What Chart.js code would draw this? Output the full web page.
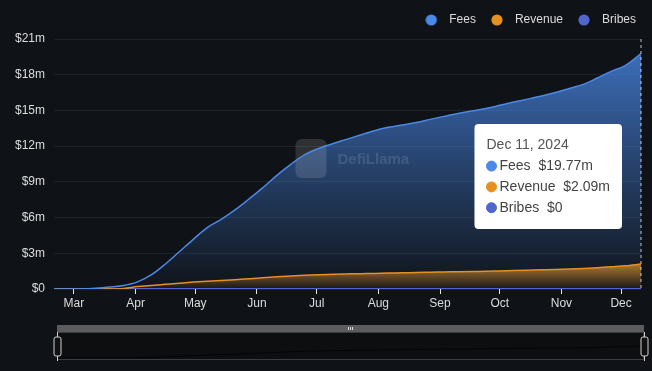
<!DOCTYPE html>
<html>
<head>
<meta charset="utf-8">
<script src="https://cdn.jsdelivr.net/npm/chart.js@4.4.1/dist/chart.umd.min.js"></script>
<style>
  html, body { margin: 0; padding: 0; background: #0f1216; }
  #wrap { width: 652px; height: 371px; }
</style>
</head>
<body>
<div id="wrap"><canvas id="feesChart"></canvas></div>
<script>
// Datos (valores en millones de USD)
const dates = [
  '2024-02-20', '2024-02-27', '2024-03-05', '2024-03-12', '2024-03-19', '2024-03-26',
  '2024-04-02', '2024-04-09', '2024-04-16', '2024-04-23', '2024-04-30',
  '2024-05-07', '2024-05-14', '2024-05-21', '2024-05-28',
  '2024-06-04', '2024-06-11', '2024-06-18', '2024-06-25',
  '2024-07-02', '2024-07-09', '2024-07-16', '2024-07-23', '2024-07-30',
  '2024-08-06', '2024-08-13', '2024-08-20', '2024-08-27',
  '2024-09-03', '2024-09-10', '2024-09-17', '2024-09-24',
  '2024-10-01', '2024-10-08', '2024-10-15', '2024-10-22', '2024-10-29',
  '2024-11-05', '2024-11-12', '2024-11-19', '2024-11-26',
  '2024-12-03', '2024-12-11'
];
const fees = [
  0, 0, 0.01, 0.07, 0.17, 0.3,
  0.6, 1.2, 2.1, 3.13, 4.17,
  5.15, 5.85, 6.64, 7.56,
  8.51, 9.55, 10.47, 11.28,
  11.8, 12.2, 12.57, 12.94, 13.3,
  13.58, 13.78, 13.98, 14.25,
  14.5, 14.74, 14.95, 15.16,
  15.43, 15.7, 15.95, 16.21, 16.5,
  16.84, 17.19, 17.72, 18.28,
  18.76, 19.77
];
const revenue = [
  0, 0, 0, 0, 0, 0.05,
  0.2, 0.3, 0.39, 0.48, 0.58,
  0.66, 0.72, 0.78, 0.86,
  0.94, 1.02, 1.1, 1.16,
  1.2, 1.23, 1.26, 1.29, 1.31,
  1.34, 1.36, 1.39, 1.41,
  1.43, 1.45, 1.47, 1.49,
  1.52, 1.55, 1.58, 1.61, 1.64,
  1.68, 1.73, 1.79, 1.87,
  1.95, 2.09
];
const bribes = [
  0, 0, 0, 0, 0, 0,
  0, 0, 0, 0, 0,
  0, 0, 0, 0,
  0, 0, 0, 0,
  0, 0, 0, 0, 0,
  0, 0, 0, 0,
  0, 0, 0, 0,
  0, 0, 0, 0, 0,
  0, 0, 0, 0,
  0, 0
];
const monthTicks = ['2024-03-01', '2024-04-01', '2024-05-01', '2024-06-01', '2024-07-01',
  '2024-08-01', '2024-09-01', '2024-10-01', '2024-11-01', '2024-12-01'];
const monthLabels = ['Mar', 'Apr', 'May', 'Jun', 'Jul', 'Aug', 'Sep', 'Oct', 'Nov', 'Dec'];
const yTicks = [0, 3, 6, 9, 12, 15, 18, 21];

const FEES_COLOR = '#4a89e8';
const REV_COLOR = '#e5911f';
const BRIBES_COLOR = '#4f66cc';
const FONT = '"Liberation Sans", Arial, sans-serif';

const shortMonths = ['Jan','Feb','Mar','Apr','May','Jun','Jul','Aug','Sep','Oct','Nov','Dec'];
const dayOf = s => (Date.parse(s) - Date.parse(dates[0])) / 864e5;
const toPoints = arr => dates.map((d, i) => ({ x: dayOf(d), y: arr[i] }));

function formatDate(s) {
  const d = new Date(s + 'T00:00:00Z');
  return shortMonths[d.getUTCMonth()] + ' ' + d.getUTCDate() + ', ' + d.getUTCFullYear();
}
function formatMoney(v) {
  return v === 0 ? '$0' : '$' + v.toFixed(2) + 'm';
}

// degradado vertical para el relleno
function gradientFill(color, values) {
  return (context) => {
    const { chart } = context;
    const { ctx, chartArea, scales } = chart;
    if (!chartArea) return color + '44';
    const top = scales.y.getPixelForValue(Math.max(...values));
    const g = ctx.createLinearGradient(0, top, 0, chartArea.bottom);
    g.addColorStop(0, color + 'c4');
    g.addColorStop(1, color + '05');
    return g;
  };
}

// punto de leyenda con más espacio hasta el texto
function legendDot(color) {
  const c = document.createElement('canvas');
  c.width = 24;
  c.height = 12;
  const g = c.getContext('2d');
  g.fillStyle = color;
  g.beginPath();
  g.arc(6, 6, 5.6, 0, Math.PI * 2);
  g.fill();
  return c;
}
const legendDots = [legendDot(FEES_COLOR), legendDot(REV_COLOR), legendDot(BRIBES_COLOR)];

Chart.Tooltip.positioners.rightSide = function (elements) {
  if (!elements.length) return false;
  const ca = this.chart.chartArea;
  return {
    x: elements[0].element.x,
    y: ca.top + (ca.bottom - ca.top) * 0.55,
    xAlign: 'right',
    yAlign: 'center'
  };
};

// mover la leyenda hacia la esquina
const legendNudge = {
  id: 'legendNudge',
  afterLayout(chart) {
    const l = chart.legend;
    l.left += 16; l.right += 16;
    l.top -= 7; l.bottom -= 7;
  }
};

// línea vertical discontinua en el punto activo
const hoverLine = {
  id: 'hoverLine',
  afterDatasetsDraw(chart) {
    const active = chart.tooltip.getActiveElements();
    if (!active.length) return;
    const { ctx, chartArea } = chart;
    const x = active[0].element.x;
    ctx.save();
    ctx.strokeStyle = 'rgba(255,255,255,0.75)';
    ctx.lineWidth = 1;
    ctx.setLineDash([3, 3]);
    ctx.beginPath();
    ctx.moveTo(x, chartArea.top);
    ctx.lineTo(x, chartArea.bottom);
    ctx.stroke();
    ctx.restore();
  }
};

// marca de agua
const watermark = {
  id: 'watermark',
  beforeDatasetsDraw(chart) {
    const { ctx, chartArea } = chart;
    const cx = (chartArea.left + chartArea.right) / 2;
    const cy = (chartArea.top + chartArea.bottom) / 2 - 6;
    ctx.save();
    ctx.fillStyle = 'rgba(255,255,255,0.13)';
    ctx.beginPath();
    ctx.roundRect(cx - 52, cy - 19, 31, 39, 6);
    ctx.fill();
    ctx.fillStyle = 'rgba(255,255,255,0.12)';
    ctx.font = 'bold 15px ' + FONT;
    ctx.textBaseline = 'middle';
    ctx.fillText('DefiLlama', cx - 10, cy + 2);
    ctx.restore();
  }
};

// selector de rango inferior
const brush = {
  id: 'brush',
  afterDraw(chart) {
    const { ctx, chartArea, scales } = chart;
    const x0 = chartArea.left + 3;
    const x1 = chartArea.right + 3;
    const top = chartArea.bottom + 36;
    const w = x1 - x0;
    ctx.save();
    ctx.fillStyle = '#5c5c5c';
    ctx.fillRect(x0, top, w, 7);
    ctx.fillStyle = '#ddd';
    const mid = (x0 + x1) / 2;
    for (let k = -1; k <= 1; k++) ctx.fillRect(mid + k * 2 - 0.5, top + 2, 1, 3);
    ctx.fillStyle = '#0c0e10';
    ctx.fillRect(x0, top + 7, w, 28);
    ctx.strokeStyle = '#3a3c3f';
    ctx.lineWidth = 1;
    ctx.strokeRect(x0 + 0.5, top + 7.5, w - 1, 27);
    // mini serie
    const xs = scales.x;
    const maxV = Math.max(...fees);
    ctx.strokeStyle = 'rgba(0,0,0,0.7)';
    ctx.beginPath();
    dates.forEach((d, i) => {
      const px = x0 + (dayOf(d) - xs.min) / (xs.max - xs.min) * w;
      const py = top + 33 - fees[i] / maxV * 12;
      i ? ctx.lineTo(px, py) : ctx.moveTo(px, py);
    });
    ctx.stroke();
    // asas
    [x0, x1].forEach(hx => {
      ctx.strokeStyle = '#cfcfcf';
      ctx.beginPath();
      ctx.moveTo(hx + 0.5, top + 7);
      ctx.lineTo(hx + 0.5, top + 36);
      ctx.stroke();
      ctx.fillStyle = '#111';
      ctx.beginPath();
      ctx.roundRect(hx - 3, top + 12, 7, 19, 2);
      ctx.fill();
      ctx.stroke();
    });
    ctx.restore();
  }
};

const chart = new Chart(document.getElementById('feesChart'), {
  type: 'line',
  data: {
    datasets: [
      {
        label: 'Fees',
        data: toPoints(fees),
        borderColor: FEES_COLOR,
        backgroundColor: gradientFill(FEES_COLOR, fees),
        pointBackgroundColor: FEES_COLOR,
        borderWidth: 1.5,
        fill: 'origin'
      },
      {
        label: 'Revenue',
        data: toPoints(revenue),
        borderColor: REV_COLOR,
        backgroundColor: gradientFill(REV_COLOR, revenue),
        pointBackgroundColor: REV_COLOR,
        borderWidth: 1.5,
        fill: 'origin'
      },
      {
        label: 'Bribes',
        data: toPoints(bribes),
        borderColor: BRIBES_COLOR,
        backgroundColor: BRIBES_COLOR,
        pointBackgroundColor: BRIBES_COLOR,
        borderWidth: 2,
        fill: false
      }
    ]
  },
  options: {
    responsive: true,
    maintainAspectRatio: false,
    animation: false,
    layout: { padding: { top: 0, right: 11, left: 0, bottom: 0 } },
    elements: {
      point: { radius: 0, hoverRadius: 0 },
      line: { cubicInterpolationMode: 'monotone' }
    },
    interaction: { mode: 'index', intersect: false },
    scales: {
      x: {
        type: 'linear',
        min: dayOf(dates[0]),
        max: dayOf(dates[dates.length - 1]),
        afterBuildTicks: (scale) => {
          scale.ticks = monthTicks.map(m => ({ value: dayOf(m) }));
        },
        afterFit: (scale) => { scale.height = 82; },
        border: { display: false },
        grid: {
          drawOnChartArea: false,
          drawTicks: true,
          tickLength: 5,
          color: '#e8e8e8'
        },
        ticks: {
          color: '#dcdcdc',
          font: { family: FONT, size: 12 },
          padding: 2,
          maxRotation: 0,
          autoSkip: false,
          callback: (v) => monthLabels[monthTicks.findIndex(m => dayOf(m) === v)]
        }
      },
      y: {
        min: 0,
        max: 21,
        afterBuildTicks: (scale) => {
          scale.ticks = yTicks.map(v => ({ value: v }));
        },
        afterFit: (scale) => { scale.width = 54; },
        border: { display: false },
        grid: { color: 'rgba(255,255,255,0.07)', drawTicks: false },
        ticks: {
          color: '#dcdcdc',
          font: { family: FONT, size: 12 },
          padding: 9,
          callback: (v) => (v === 0 ? '$0' : '$' + v + 'm')
        }
      }
    },
    plugins: {
      filler: { drawTime: 'beforeDatasetsDraw' },
      legend: {
        position: 'top',
        align: 'end',
        maxHeight: 39,
        labels: {
          color: '#dcdcdc',
          font: { family: FONT, size: 12 },
          usePointStyle: true,
          boxWidth: 12,
          boxHeight: 8,
          padding: 21,
          generateLabels: (chart) =>
            Chart.defaults.plugins.legend.labels.generateLabels(chart)
              .map((item, i) => Object.assign(item, { pointStyle: legendDots[i] }))
        }
      },
      tooltip: {
        position: 'rightSide',
        backgroundColor: '#ffffff',
        titleColor: '#555',
        bodyColor: '#444',
        titleFont: { family: FONT, size: 14, weight: 'normal' },
        bodyFont: { family: FONT, size: 14 },
        titleMarginBottom: 4,
        bodySpacing: 4,
        padding: { top: 13, bottom: 13, left: 12, right: 12 },
        cornerRadius: 4,
        caretSize: 0,
        caretPadding: 19,
        usePointStyle: true,
        boxWidth: 10,
        boxHeight: 10,
        boxPadding: 1,
        callbacks: {
          title: (items) => formatDate(dates[items[0].dataIndex]),
          label: (item) => item.dataset.label + '  ' + formatMoney(item.parsed.y),
          labelPointStyle: () => ({ pointStyle: 'circle', rotation: 0 })
        }
      }
    }
  },
  plugins: [legendNudge, hoverLine, watermark, brush]
});

// mostrar el tooltip del último día
const last = dates.length - 1;
const active = chart.data.datasets.map((_, i) => ({ datasetIndex: i, index: last }));
chart.setActiveElements(active);
chart.tooltip.setActiveElements(active, { x: 0, y: 0 });
chart.update();
</script>
</body>
</html>
